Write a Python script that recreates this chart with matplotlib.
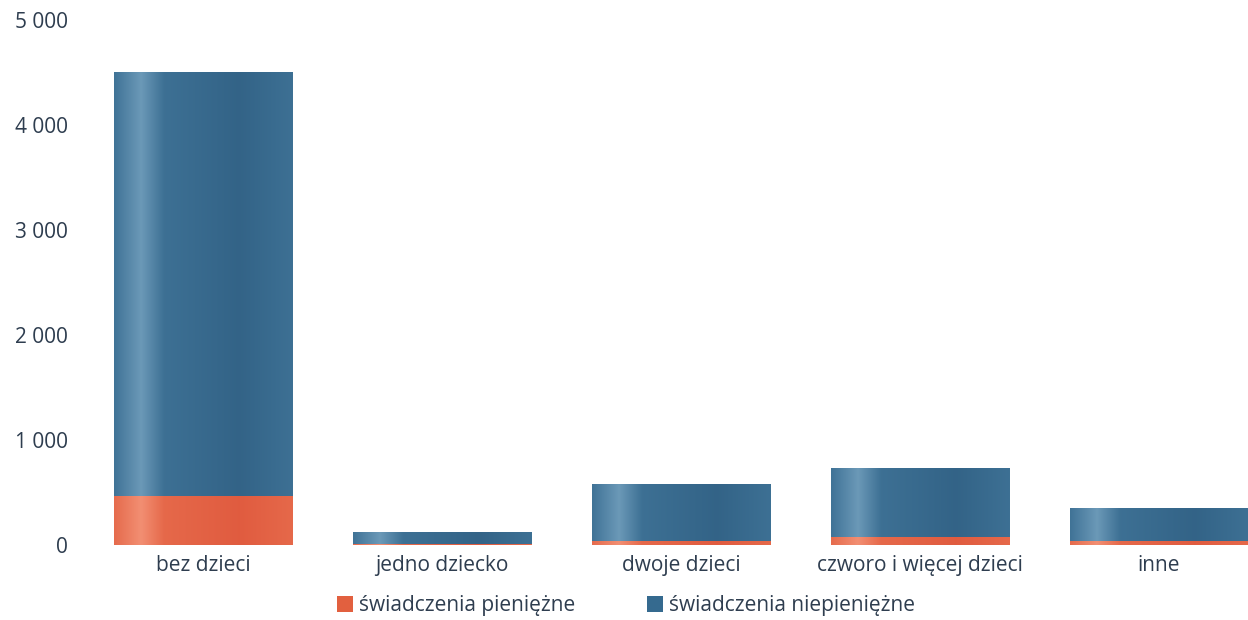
import numpy as np
import matplotlib
matplotlib.use("Agg")
import matplotlib.pyplot as plt
from matplotlib.colors import LinearSegmentedColormap
from matplotlib.patches import Patch
from matplotlib.transforms import ScaledTranslation

categories = ["bez dzieci", "jedno dziecko", "dwoje dzieci", "czworo i więcej dzieci", "inne"]
pieniezne = [465, 10, 35, 75, 40]
niepieniezne = [4035, 117, 545, 655, 312]
series_names = ["świadczenia pieniężne", "świadczenia niepieniężne"]
yticks = [0, 1000, 2000, 3000, 4000, 5000]
ytick_labels = ["0", "1 000", "2 000", "3 000", "4 000", "5 000"]

plt.rcParams['font.family'] = ['Open Sans', 'DejaVu Sans']
text_color = "#2e3d4f"
fs = 15

fig = plt.figure(figsize=(12.48, 6.2), dpi=100)
ax = fig.add_axes([100/1248, 75/620, 1148/1248, 525/620])

x = np.arange(len(categories))
width = 0.745

blue_cmap = LinearSegmentedColormap.from_list("b", [
    (0.0, (0.25, 0.45, 0.59)),
    (0.15, (0.42, 0.60, 0.72)),
    (0.28, (0.24, 0.44, 0.58)),
    (0.70, (0.20, 0.39, 0.53)),
    (1.0, (0.24, 0.44, 0.58)),
])
orange_cmap = LinearSegmentedColormap.from_list("o", [
    (0.0, (0.90, 0.42, 0.30)),
    (0.15, (0.95, 0.56, 0.45)),
    (0.28, (0.90, 0.41, 0.29)),
    (0.70, (0.88, 0.36, 0.25)),
    (1.0, (0.90, 0.41, 0.29)),
])

b1 = ax.bar(x, pieniezne, width, color="#e06045", label=series_names[0], zorder=2)
b2 = ax.bar(x, niepieniezne, width, bottom=pieniezne, color="#3a6a8e",
            label=series_names[1], zorder=2)

grad = np.linspace(0, 1, 256).reshape(1, -1)
for bars, cmap in ((b1, orange_cmap), (b2, blue_cmap)):
    for p in bars:
        x0, y0 = p.get_x(), p.get_y()
        w, h = p.get_width(), p.get_height()
        if h <= 0:
            continue
        im = ax.imshow(grad, cmap=cmap, aspect='auto',
                       extent=[x0, x0 + w, y0, y0 + h], zorder=3,
                       interpolation='bilinear')
        im.set_clip_path(p)

ax.set_xlim(-0.431, 4.3725)
ax.set_ylim(0, 5000)
ax.set_yticks(yticks)
ax.set_yticklabels(ytick_labels)
ax.set_xticks(x)
ax.set_xticklabels(categories)
offset = ScaledTranslation(-12/100, 0, fig.dpi_scale_trans)
for lbl in ax.get_xticklabels():
    lbl.set_transform(lbl.get_transform() + offset)
ax.tick_params(axis='y', length=0, pad=23, labelsize=fs, labelcolor=text_color)
ax.tick_params(axis='x', length=0, pad=7, labelsize=fs, labelcolor=text_color)
for s in ax.spines.values():
    s.set_visible(False)

handles = [Patch(facecolor="#e2603f", label=series_names[0]),
           Patch(facecolor="#356a8f", label=series_names[1])]
fig.legend(handles=handles, loc='center', bbox_to_anchor=(626/1248, 1 - 606/620),
           ncol=2, frameon=False, fontsize=fs, handlelength=0.8, handleheight=0.8,
           handletextpad=0.3, columnspacing=3.4, labelcolor=text_color)

fig.savefig("out.png", dpi=100)
